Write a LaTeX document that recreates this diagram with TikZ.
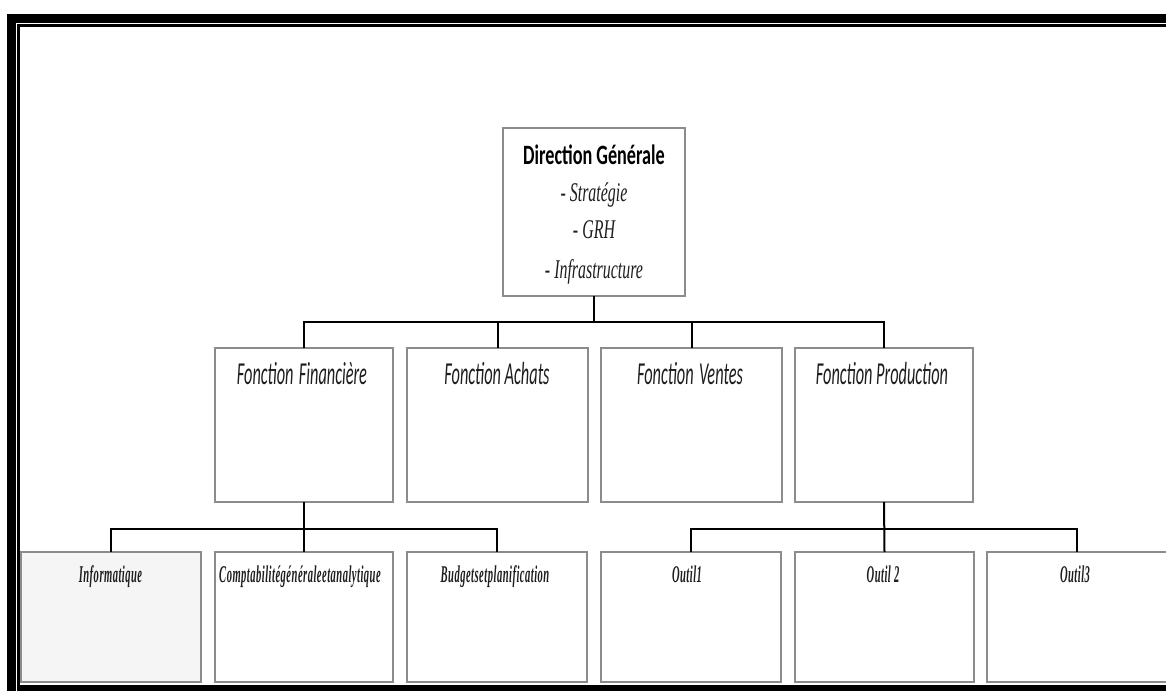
\documentclass[tikz,border=0pt]{standalone}
\usepackage{fontspec}
\setmainfont{Liberation Serif}
% condensed faces for the chart labels
\newfontfamily\titlefont[FakeStretch=0.65]{Carlito}
\newfontfamily\fonctfont[FakeStretch=0.51]{Carlito}
\newfontfamily\listfont[FakeStretch=0.59]{Liberation Serif}
\newfontfamily\unitfont[FakeStretch=0.44, LetterSpace=2]{Liberation Serif}
\definecolor{boxgrey}{HTML}{8C8C8C}
\definecolor{textgrey}{HTML}{1E1E1E}
\definecolor{softfill}{HTML}{F5F5F5}
\begin{document}
\begin{tikzpicture}[x=1pt,y=-1pt,
  orgbox/.style={draw=boxgrey, line width=2pt, fill=white, inner sep=0pt, outer sep=0pt, rectangle},
  link/.style={draw=black, line width=2pt},
  txt/.style={anchor=base, inner sep=0pt, outer sep=0pt},
  titletxt/.style={txt, font=\titlefont\bfseries\fontsize{28}{32}\selectfont},
  listtxt/.style={txt, text=textgrey, font=\listfont\itshape\fontsize{27}{31}\selectfont},
  foncttxt/.style={txt, text=textgrey, font=\fonctfont\itshape\fontsize{32}{36}\selectfont},
  unittxt/.style={txt, text=textgrey, font=\unitfont\bfseries\itshape\fontsize{24}{28}\selectfont},
]
\useasboundingbox (0,0) rectangle (1166,691);
\fill[white] (0,0) rectangle (1166,691);

% page frame: thick band plus thin inner rule
\fill[black] (7,14) rectangle (1166,23);
\fill[black] (7,14) rectangle (16,691);
\fill[black] (17,24) rectangle (1166,27);
\fill[black] (17,24) rectangle (20,691);
\fill[black] (17,685) rectangle (1166,691);

% top level
\node[orgbox, minimum width=182pt, minimum height=168pt] (dg) at (594,212) {};
\node[titletxt] (dgt) at (594,164) {Direction Générale};
\node[listtxt] (dg1) at (594,201) {- Stratégie};
\node[listtxt] (dg2) at (594,238) {- GRH};
\node[listtxt] (dg3) at (594,278) {- Infrastructure};

% functions
\node[orgbox, minimum width=178pt, minimum height=154pt] (ff) at (304,425) {};
\node[orgbox, minimum width=181pt, minimum height=154pt] (fa) at (497.5,425) {};
\node[orgbox, minimum width=181pt, minimum height=154pt] (fv) at (691.5,425) {};
\node[orgbox, minimum width=178pt, minimum height=154pt] (fp) at (884,425) {};
\node[foncttxt] (fft) at (302,384) {Fonction\,Financière};
\node[foncttxt] (fat) at (497,384) {Fonction Achats};
\node[foncttxt] (fvt) at (690,384) {Fonction\,Ventes};
\node[foncttxt] (fpt) at (882,384) {Fonction Production};

% units
\node[orgbox, fill=softfill, minimum width=180pt, minimum height=130pt] (inf) at (111,617) {};
\node[orgbox, minimum width=178pt, minimum height=130pt] (comp) at (304,617) {};
\node[orgbox, minimum width=180pt, minimum height=130pt] (bud) at (497,617) {};
\node[orgbox, minimum width=180pt, minimum height=130pt] (o1) at (691,617) {};
\node[orgbox, minimum width=179pt, minimum height=130pt] (o2) at (884.5,617) {};
\node[orgbox, minimum width=180pt, minimum height=130pt] (o3) at (1077,617) {};
\node[unittxt] (inft) at (110.5,582) {Informatique};
\node[unittxt] (compt) at (300,582) {Comptabilitégénéraleetanalytique};
\node[unittxt] (budt) at (495,582) {Budgetsetplanification};
\node[unittxt] (o1t) at (687,582) {Outil1};
\node[unittxt] (o2t) at (883,582) {Outil 2};
\node[unittxt] (o3t) at (1075,582) {Outil3};

% connectors
\coordinate (busA) at (594,322);
\coordinate (busB) at (304,529);
\coordinate (busC) at (884,529);
\draw[link] (dg.south) -- (busA);
\draw[link] (ff.north) |- (busA);
\draw[link] (fa.north) |- (busA);
\draw[link] (fv.north) |- (busA);
\draw[link] (fp.north) |- (busA);
\draw[link] (ff.south) -- (comp.north);
\draw[link] (inf.north) |- (busB);
\draw[link] (bud.north) |- (busB);
\draw[link] (fp.south) -- (o2.north);
\draw[link] (o1.north) |- (busC);
\draw[link] (o3.north) |- (busC);
\end{tikzpicture}
\end{document}
